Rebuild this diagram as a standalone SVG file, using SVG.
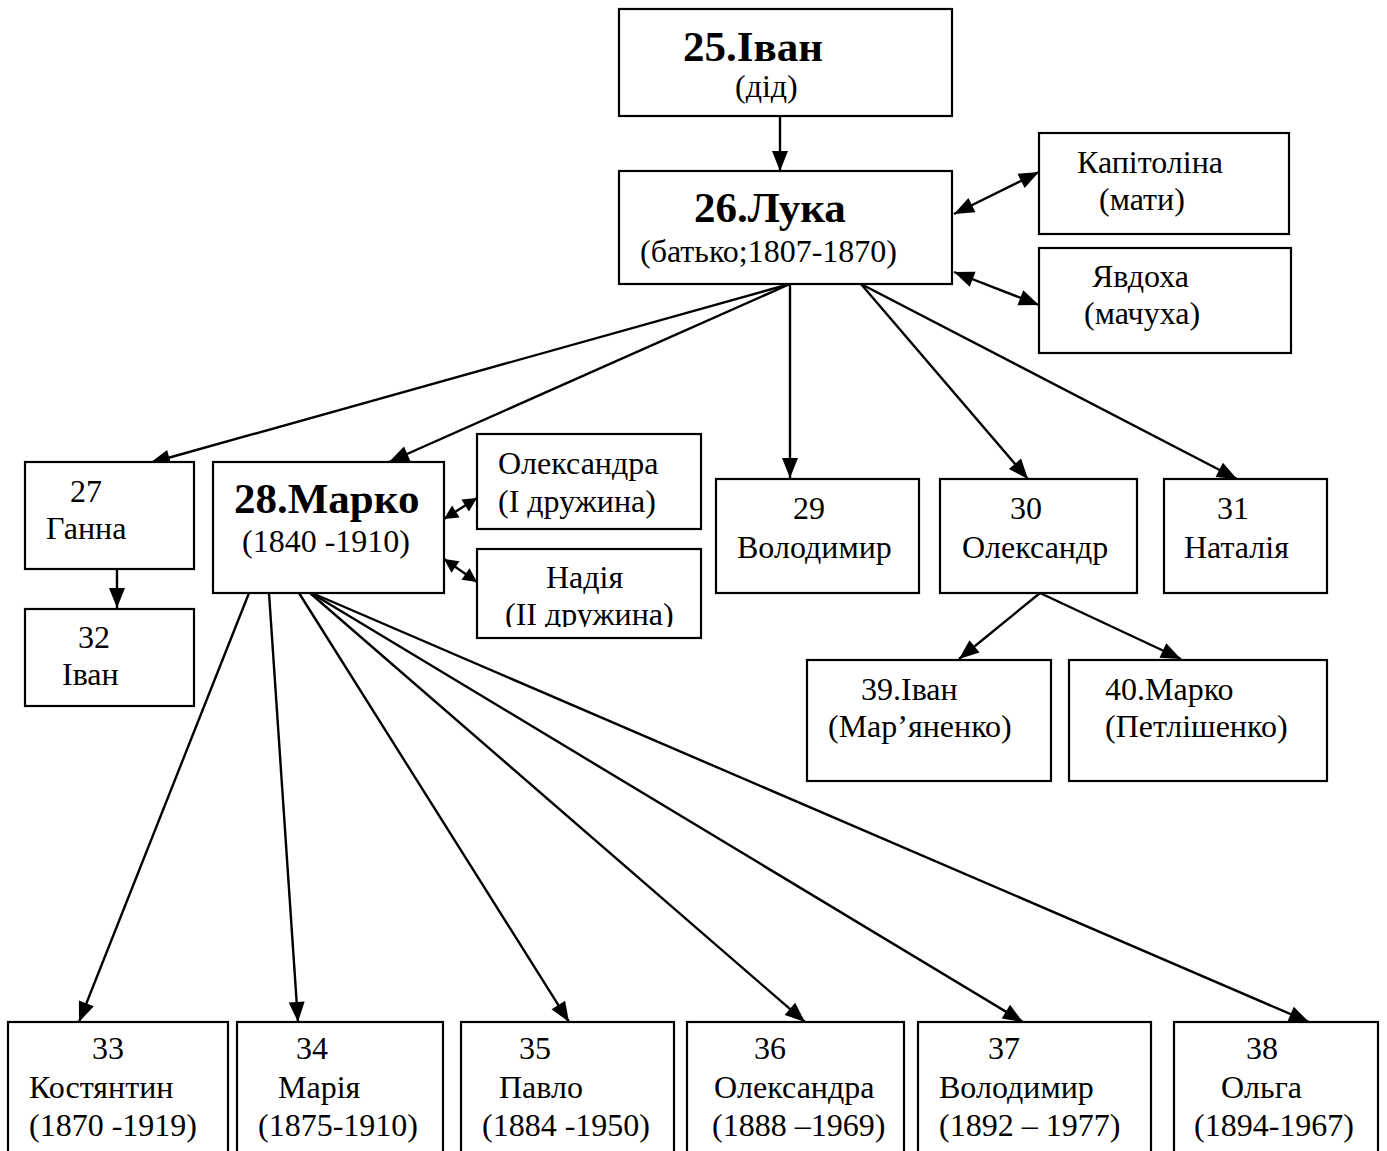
<svg xmlns="http://www.w3.org/2000/svg" width="1387" height="1151" viewBox="0 0 1387 1151">
<style>
.box{fill:#fff;stroke:#000;stroke-width:2.2}
text{font-family:"Liberation Serif","Times New Roman",serif;font-size:32px;fill:#000}
.b{font-weight:bold;font-size:43px}
.c{stroke:#000;stroke-width:2.4;fill:none}
</style>
<defs>
<marker id="ah" markerUnits="userSpaceOnUse" markerWidth="22" markerHeight="18" refX="20" refY="8" orient="auto" overflow="visible">
<path d="M0,0 L20,8 L0,16 z" fill="#000"/>
</marker>
<marker id="as" markerUnits="userSpaceOnUse" markerWidth="22" markerHeight="18" refX="0" refY="8" orient="auto" overflow="visible">
<path d="M20,0 L0,8 L20,16 z" fill="#000"/>
</marker>
<marker id="ahs" markerUnits="userSpaceOnUse" markerWidth="16" markerHeight="16" refX="14" refY="7" orient="auto" overflow="visible">
<path d="M0,0 L14,7 L0,14 z" fill="#000"/>
</marker>
<marker id="ass" markerUnits="userSpaceOnUse" markerWidth="16" markerHeight="16" refX="0" refY="7" orient="auto" overflow="visible">
<path d="M14,0 L0,7 L14,14 z" fill="#000"/>
</marker>
<clipPath id="clipN"><rect x="477" y="549" width="224" height="78"/></clipPath>
</defs>

<g id="connectors">
<line class="c" x1="780" y1="116" x2="780" y2="171" marker-end="url(#ah)"/>
<line class="c" x1="954" y1="214" x2="1039" y2="172" marker-start="url(#as)" marker-end="url(#ah)"/>
<line class="c" x1="954" y1="272" x2="1039" y2="305" marker-start="url(#as)" marker-end="url(#ah)"/>
<line class="c" x1="790" y1="284" x2="150" y2="463" marker-end="url(#ah)"/>
<line class="c" x1="790" y1="284" x2="389" y2="462" marker-end="url(#ah)"/>
<line class="c" x1="790" y1="284" x2="790" y2="478" marker-end="url(#ah)"/>
<line class="c" x1="861" y1="284" x2="1028" y2="479" marker-end="url(#ah)"/>
<line class="c" x1="861" y1="284" x2="1237" y2="479" marker-end="url(#ah)"/>
<line class="c" x1="117" y1="569" x2="117" y2="608" marker-end="url(#ah)"/>
<line class="c" x1="444" y1="519" x2="477" y2="498" marker-start="url(#ass)" marker-end="url(#ahs)"/>
<line class="c" x1="444" y1="559" x2="477" y2="582" marker-start="url(#ass)" marker-end="url(#ahs)"/>
<line class="c" x1="249" y1="593" x2="79" y2="1022" marker-end="url(#ah)"/>
<line class="c" x1="269" y1="593" x2="298" y2="1022" marker-end="url(#ah)"/>
<line class="c" x1="299" y1="593" x2="569" y2="1022" marker-end="url(#ah)"/>
<line class="c" x1="310" y1="593" x2="805" y2="1022" marker-end="url(#ah)"/>
<line class="c" x1="311" y1="593" x2="1023" y2="1022" marker-end="url(#ah)"/>
<line class="c" x1="312" y1="593" x2="1309" y2="1022" marker-end="url(#ah)"/>
<line class="c" x1="1040" y1="593" x2="959" y2="659" marker-end="url(#ah)"/>
<line class="c" x1="1040" y1="593" x2="1181" y2="659" marker-end="url(#ah)"/>
</g>

<g id="n25"><rect class="box" x="619" y="9" width="333" height="107"/>
<text class="b" x="683" y="61">25.Іван</text><text x="735" y="97">(дід)</text></g>
<g id="n26"><rect class="box" x="619" y="171" width="333" height="113"/>
<text class="b" x="694" y="222">26.Лука</text><text x="640" y="262">(батько;1807-1870)</text></g>
<g id="kapitolina"><rect class="box" x="1039" y="133" width="250" height="101"/>
<text x="1077" y="173">Капітоліна</text><text x="1099" y="210">(мати)</text></g>
<g id="yavdokha"><rect class="box" x="1039" y="248" width="252" height="105"/>
<text x="1092" y="287">Явдоха</text><text x="1084" y="324">(мачуха)</text></g>
<g id="n27"><rect class="box" x="25" y="462" width="169" height="107"/>
<text x="70" y="502">27</text><text x="46" y="539">Ганна</text></g>
<g id="n32"><rect class="box" x="25" y="609" width="169" height="97"/>
<text x="78" y="648">32</text><text x="62" y="685">Іван</text></g>
<g id="n28"><rect class="box" x="213" y="462" width="231" height="131"/>
<text class="b" x="234" y="513">28.Марко</text><text x="242" y="552">(1840 -1910)</text></g>
<g id="oleksandra"><rect class="box" x="477" y="434" width="224" height="95"/>
<text x="498" y="474">Олександра</text><text x="498" y="512">(І дружина)</text></g>
<g id="nadiya"><rect class="box" x="477" y="549" width="224" height="89"/>
<text x="546" y="588">Надія</text><text x="505" y="625" clip-path="url(#clipN)">(ІІ дружина)</text></g>
<g id="n29"><rect class="box" x="716" y="479" width="203" height="114"/>
<text x="793" y="519">29</text><text x="737" y="558">Володимир</text></g>
<g id="n30"><rect class="box" x="940" y="479" width="197" height="114"/>
<text x="1010" y="519">30</text><text x="962" y="558">Олександр</text></g>
<g id="n31"><rect class="box" x="1164" y="479" width="163" height="114"/>
<text x="1217" y="519">31</text><text x="1184" y="558">Наталія</text></g>
<g id="n39"><rect class="box" x="807" y="660" width="244" height="121"/>
<text x="861" y="700">39.Іван</text><text x="828" y="737">(Мар’яненко)</text></g>
<g id="n40"><rect class="box" x="1069" y="660" width="258" height="121"/>
<text x="1105" y="700">40.Марко</text><text x="1105" y="737">(Петлішенко)</text></g>
<g id="n33"><rect class="box" x="8" y="1022" width="220" height="140"/>
<text x="92" y="1059">33</text><text x="29" y="1098">Костянтин</text><text x="29" y="1136">(1870 -1919)</text></g>
<g id="n34"><rect class="box" x="237" y="1022" width="206" height="140"/>
<text x="296" y="1059">34</text><text x="278" y="1098">Марія</text><text x="258" y="1136">(1875-1910)</text></g>
<g id="n35"><rect class="box" x="461" y="1022" width="213" height="140"/>
<text x="519" y="1059">35</text><text x="499" y="1098">Павло</text><text x="482" y="1136">(1884 -1950)</text></g>
<g id="n36"><rect class="box" x="687" y="1022" width="217" height="140"/>
<text x="754" y="1059">36</text><text x="714" y="1098">Олександра</text><text x="712" y="1136">(1888 –1969)</text></g>
<g id="n37"><rect class="box" x="918" y="1022" width="233" height="140"/>
<text x="988" y="1059">37</text><text x="939" y="1098">Володимир</text><text x="939" y="1136">(1892 – 1977)</text></g>
<g id="n38"><rect class="box" x="1174" y="1022" width="204" height="140"/>
<text x="1246" y="1059">38</text><text x="1221" y="1098">Ольга</text><text x="1194" y="1136">(1894-1967)</text></g>
</svg>
